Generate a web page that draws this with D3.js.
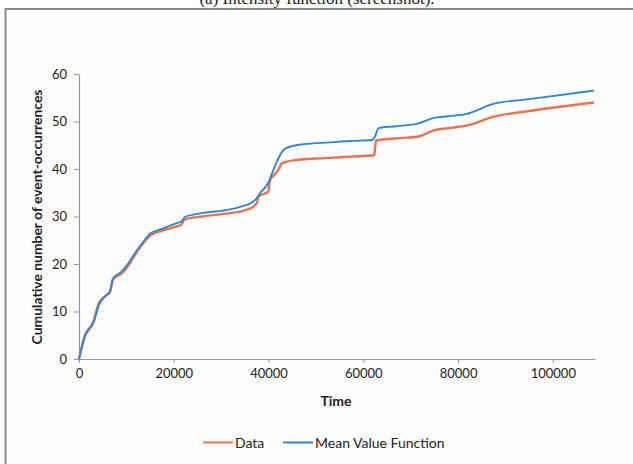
<!DOCTYPE html>
<html>
<head>
<meta charset="utf-8">
<script src="https://cdn.jsdelivr.net/npm/d3@7"></script>
<style>
  body { margin: 0; background: #fff; }
  svg { display: block; }
  .tick text { font-family: Lato, "Open Sans", sans-serif; font-size: 13px; fill: #222; }
</style>
</head>
<body>
<div id="container"></div>
<script>

var W = 633, H = 464;

var margin = {top: 74, right: 38, bottom: 105, left: 79};

var width = 595 - margin.left;
var height = 359 - margin.top;

var xMax = 108900;

var xTicks = [0, 20000, 40000, 60000, 80000, 100000];
var yTicks = [0, 10, 20, 30, 40, 50, 60];

var dataTime = [0, 1200, 3000, 4200, 5800, 6500, 7200, 9000, 10500, 12000, 13900, 15200, 17500, 20600, 21600, 22200, 26000,
    31900, 35000, 36800, 37600, 37900, 39900, 40300, 41200, 42100, 42800, 45900, 52000, 57200, 62300, 62500, 62700,
    68000, 71900, 74700, 78000, 82500, 87100, 95000, 108700];
var dataCount = [0, 4.8, 7.8, 11.8, 13.4, 14.0, 16.8, 18.0, 19.8, 22.2, 24.8, 26.1, 27.0, 27.9, 28.3, 29.3, 30.0,
    30.7, 31.3, 32.1, 33.0, 34.2, 35.2, 37.6, 38.8, 39.8, 41.2, 41.9, 42.3, 42.6, 42.9, 44.6, 46.0,
    46.5, 46.9, 48.1, 48.6, 49.3, 50.9, 52.2, 54.0];

//  fitted mean value function
var mvfTime = [0, 1200, 3000, 4300, 5800, 6500, 7200, 9000, 10500, 12100, 13900, 15000, 17500, 20600, 21700, 22400, 26000,
    31900, 34500, 36400, 37400, 38200, 39900, 41300, 42300, 43500, 47300, 53000, 57200, 61900, 62500, 63200,
    67000, 71600, 74700, 78000, 81800, 87400, 95000, 108700];
var mvfCount = [0, 4.7, 7.5, 11.6, 13.5, 14.2, 17.0, 18.4, 20.3, 22.7, 25.1, 26.4, 27.4, 28.6, 29.0, 29.9, 30.7,
    31.5, 32.2, 32.9, 33.7, 34.9, 37.0, 40.5, 42.7, 44.3, 45.2, 45.6, 45.9, 46.1, 46.9, 48.6,
    49.0, 49.6, 50.7, 51.1, 51.6, 53.7, 54.7, 56.5];

var seriesNames = ["Data", "Mean Value Function"];
var seriesColors = ["#f0704e", "#2e87d6"];

var svg = d3.select("#container")
    .append("svg")
    .attr("width", W)
    .attr("height", H);

//  caption of the page above (cut off, as in the screenshot)
svg.append("text")
    .attr("x", 317)
    .attr("y", 4)
    .attr("text-anchor", "middle")
    .style("font-family", "'Liberation Serif', serif")
    .style("font-size", "17px")
    .attr("fill", "#222")
    .text("(a) Intensity function (screenshot).");

//  screenshot frame
svg.append("rect")
    .attr("x", 5.5)
    .attr("y", 9)
    .attr("width", W + 10)
    .attr("height", H + 10)
    .attr("fill", "#fdfdfe")
    .attr("stroke", "#8a8a8a")
    .attr("stroke-width", 2);

var x = d3.scaleLinear()
    .domain([0, xMax])
    .range([0, width]);

var y = d3.scaleLinear()
    .domain([0, 60])
    .range([height, 0]);

var g = svg.append("g")
    .attr("transform", "translate(" + margin.left + "," + margin.top + ")");

var axisColor = "#8d9aa6";

g.append("g")
    .attr("class", "axis-bottom")
    .attr("transform", "translate(0," + height + ")")
    .call(d3.axisBottom(x).tickValues(xTicks).tickFormat(d3.format("d")).tickSize(4).tickSizeOuter(0).tickPadding(6));

g.append("g")
    .attr("class", "axis-left")
    .call(d3.axisLeft(y).tickValues(yTicks).tickSize(5).tickSizeOuter(0).tickPadding(7));

g.selectAll(".domain").attr("stroke", axisColor).attr("stroke-width", 1.2);
g.selectAll(".tick line").attr("stroke", axisColor);

var line = d3.line()
    .x(function(d){ return x(d[0]); })
    .y(function(d){ return y(d[1]); })
    .curve(d3.curveMonotoneX);

var dataPts = d3.zip(dataTime, dataCount);
var mvfPts = d3.zip(mvfTime, mvfCount);

g.append("path")
    .datum(dataPts)
    .attr("d", line)
    .attr("fill", "none")
    .attr("stroke", seriesColors[0])
    .attr("stroke-width", 2.4);

g.append("path")
    .datum(mvfPts)
    .attr("d", line)
    .attr("fill", "none")
    .attr("stroke", seriesColors[1])
    .attr("stroke-width", 1.9);

//  axis titles
svg.append("text")
    .attr("transform", "translate(42,217) rotate(-90)")
    .attr("text-anchor", "middle")
    .style("font-family", "Lato, sans-serif")
    .style("font-weight", "bold")
    .style("font-size", "13.9px")
    .attr("fill", "#222")
    .text("Cumulative number of event-occurrences");

svg.append("text")
    .attr("x", 336)
    .attr("y", 406)
    .attr("text-anchor", "middle")
    .style("font-family", "Lato, sans-serif")
    .style("font-weight", "bold")
    .style("font-size", "14px")
    .attr("fill", "#222")
    .text("Time");

//  legend
var legendX = [203, 283];

var legend = svg.selectAll(".legend")
    .data(seriesNames)
    .enter()
    .append("g")
    .attr("class", "legend")
    .attr("transform", function(d, i){ return "translate(" + legendX[i] + ",442.5)"; });

legend.append("line")
    .attr("x1", 0)
    .attr("x2", 30)
    .attr("stroke", function(d, i){ return seriesColors[i]; })
    .attr("stroke-width", 2);

legend.append("text")
    .attr("x", 32)
    .attr("y", 5)
    .style("font-family", "Lato, sans-serif")
    .style("font-size", "14px")
    .attr("fill", "#222")
    .text(function(d){ return d; });

</script>
</body>
</html>
